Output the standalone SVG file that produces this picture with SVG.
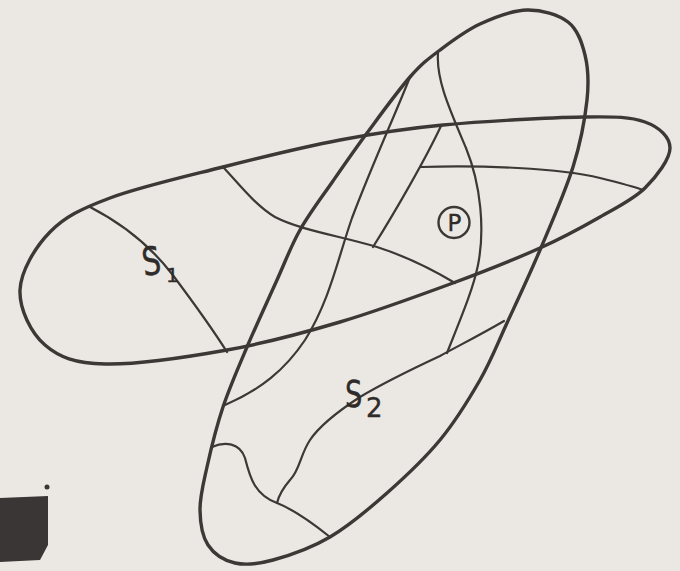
<svg xmlns="http://www.w3.org/2000/svg" width="680" height="571" viewBox="0 0 680 571">
<style>
.bg{fill:#ebe8e3}
.outline{fill:none;stroke:#3b3835;stroke-width:3.4;stroke-linejoin:round;stroke-linecap:round}
.line{fill:none;stroke:#3b3835;stroke-width:2.2;stroke-linecap:round;stroke-linejoin:round}
.lbl{font-family:"DejaVu Sans","Liberation Sans",sans-serif;fill:#2e2b29;stroke:#2e2b29;stroke-width:0.4}
</style>
<rect class="bg" x="0" y="0" width="680" height="571"/>
<g id="blob">
<path d="M0,498 L48,496 L48,545 L40,560 L0,562 Z" fill="#3a3636"/>
<circle cx="47" cy="487" r="2.5" fill="#3a3636"/>
</g>
<g id="ellipse-s1">
<path class="outline" d="M20,290 C20.8,271.2 35,247.3 50,232 C65,216.7 81.2,208.8 110,198 C138.8,187.2 184.7,176.7 223,167 C261.3,157.3 303.3,147 340,140 C376.7,133 402.5,128.8 443,125 C483.5,121.2 549.3,117.5 583,117 C616.7,116.5 630.5,116.8 645,122 C659.5,127.2 670,137 670,148 C670,159 656.7,176.5 645,188 C633.3,199.5 617.5,207 600,217 C582.5,227 564.5,237 540,248 C515.5,259 486.3,270.7 453,283 C419.7,295.3 377.7,310.8 340,322 C302.3,333.2 266.2,343 227,350 C187.8,357 135.3,364.8 105,364 C74.7,363.2 59.2,357.3 45,345 C30.8,332.7 19.2,308.8 20,290 Z"/>
</g>
<g id="ellipse-s2">
<path class="outline" d="M527,10 C541.7,9.7 558.3,14.5 568,22 C577.7,29.5 581.8,42 585,55 C588.2,68 589,81.3 587,100 C585,118.7 580.8,142 573,167 C565.2,192 551,224 540,250 C529,276 517,301.3 507,323 C497,344.7 491.2,360.5 480,380 C468.8,399.5 455.5,421.2 440,440 C424.5,458.8 405.3,476.8 387,493 C368.7,509.2 349,525.8 330,537 C311,548.2 288.8,555.7 273,560 C257.2,564.3 245.8,565.5 235,563 C224.2,560.5 213.8,553.8 208,545 C202.2,536.2 200.2,523 200,510 C199.8,497 203.2,484.2 207,467 C210.8,449.8 216.3,427 223,407 C229.7,387 238,368.2 247,347 C256,325.8 268.2,299.5 277,280 C285.8,260.5 290.7,246.5 300,230 C309.3,213.5 321.8,197.2 333,181 C344.2,164.8 354.2,150.3 367,133 C379.8,115.7 397.8,90.8 410,77 C422.2,63.2 428.3,58.8 440,50 C451.7,41.2 465.5,30.7 480,24 C494.5,17.3 512.3,10.3 527,10 Z"/>
</g>
<g id="connectors">
<path class="line" d="M90,207 C125,225 152,248 172,274 C190,298 210,325 227,352"/>
<path class="line" d="M223,167 C240,185 255,205 275,217 C300,230 340,236 377,247 C405,256 430,268 455,283"/>
<path class="line" d="M410,77 C395,115 372,165 352,218 C338,258 330,300 305,340 C285,370 260,390 225,405"/>
<path class="line" d="M441,126 C425,160 395,212 373,247"/>
<path class="line" d="M438,53 C436,80 450,110 466,148 C481,185 485,230 478,265 C473,290 460,320 447,353"/>
<path class="line" d="M421,167 C480,165 560,168 600,178 C620,183 635,187 643,190"/>
<path class="line" d="M504,321 C480,335 460,345 440,356 C410,370 385,382 360,397 C340,410 320,425 310,440 C300,455 300,470 290,480 C283,488 279,495 277,503"/>
<path class="line" d="M212,447 C225,441 240,443 245,458 C250,478 255,495 277,503 C295,510 315,525 330,537"/>
</g>
<g id="label-s1">
<text class="lbl" transform="translate(144,276) rotate(-8) scale(0.75,1)" font-size="39">S</text>
<text class="lbl" x="166" y="282" font-size="20">1</text>
</g>
<g id="label-s2">
<text class="lbl" transform="translate(345,407) scale(0.72,1)" font-size="38">S</text>
<text class="lbl" x="366" y="417" font-size="26">2</text>
</g>
<g id="point-p">
<circle cx="454" cy="222.5" r="15.5" fill="none" stroke="#3b3835" stroke-width="2.4"/>
<text class="lbl" x="454.5" y="231" font-size="23" text-anchor="middle">P</text>
</g>
</svg>
